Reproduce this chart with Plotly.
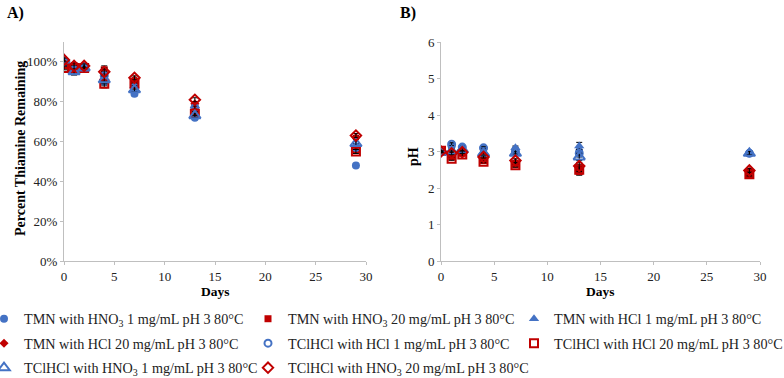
import plotly.graph_objects as go

days = [0, 1, 2, 4, 7, 13, 29]

series_names = [
    "TMN with HNO<sub>3</sub> 1 mg/mL pH 3 80°C",
    "TMN with HNO<sub>3</sub> 20 mg/mL pH 3 80°C",
    "TMN with HCl 1 mg/mL pH 3 80°C",
    "TMN with HCl 20 mg/mL pH 3 80°C",
    "TClHCl with HCl 1 mg/mL pH 3 80°C",
    "TClHCl with HCl 20 mg/mL pH 3 80°C",
    "TClHCl with HNO<sub>3</sub> 1 mg/mL pH 3 80°C",
    "TClHCl with HNO<sub>3</sub> 20 mg/mL pH 3 80°C",
]

# Panel A: fraction of thiamine remaining
pct_tmn_hno3_1 = [0.99, 0.96, 0.97, 0.90, 0.84, 0.72, 0.48]
pct_tmn_hno3_20 = [0.98, 0.98, 0.97, 0.96, 0.90, 0.75, 0.56]
pct_tmn_hcl_1 = [0.99, 0.95, 0.97, 0.92, 0.88, 0.78, 0.58]
pct_tmn_hcl_20 = [1.00, 0.98, 0.98, 0.94, 0.91, 0.79, 0.62]
pct_tcl_hcl_1 = [1.00, 0.96, 0.97, 0.93, 0.87, 0.77, 0.57]
pct_tcl_hcl_20 = [0.97, 0.97, 0.97, 0.89, 0.89, 0.74, 0.55]
pct_tcl_hno3_1 = [1.01, 0.95, 0.97, 0.91, 0.86, 0.73, 0.59]
pct_tcl_hno3_20 = [1.01, 0.98, 0.98, 0.95, 0.92, 0.81, 0.63]
pct_err = [0.01, 0.015, 0.01, 0.02, 0.01, 0.01, 0.01]

# Panel B: pH
ph_tmn_hno3_1 = [3.00, 3.15, 3.10, 3.08, 3.05, 3.00, 2.95]
ph_tmn_hno3_20 = [3.00, 2.85, 2.95, 2.75, 2.65, 2.45, 2.35]
ph_tmn_hcl_1 = [2.98, 3.05, 3.08, 3.00, 3.10, 3.15, 2.97]
ph_tmn_hcl_20 = [3.02, 2.90, 2.95, 2.80, 2.70, 2.55, 2.45]
ph_tcl_hcl_1 = [3.00, 3.20, 3.12, 3.10, 3.00, 2.95, 2.95]
ph_tcl_hcl_20 = [3.02, 2.80, 2.92, 2.72, 2.62, 2.50, 2.38]
ph_tcl_hno3_1 = [2.98, 3.00, 3.05, 2.95, 2.95, 2.85, 2.95]
ph_tcl_hno3_20 = [3.00, 2.95, 2.98, 2.85, 2.75, 2.60, 2.48]
ph_err = [0.02, 0.04, 0.03, 0.03, 0.05, 0.10, 0.05]

pct_data = [pct_tmn_hno3_1, pct_tmn_hno3_20, pct_tmn_hcl_1, pct_tmn_hcl_20,
            pct_tcl_hcl_1, pct_tcl_hcl_20, pct_tcl_hno3_1, pct_tcl_hno3_20]
ph_data = [ph_tmn_hno3_1, ph_tmn_hno3_20, ph_tmn_hcl_1, ph_tmn_hcl_20,
           ph_tcl_hcl_1, ph_tcl_hcl_20, ph_tcl_hno3_1, ph_tcl_hno3_20]

BLUE = "#4472C4"
RED = "#C00000"
styles = [
    dict(symbol="circle", color=BLUE, size=8),
    dict(symbol="square", color=RED, size=7),
    dict(symbol="triangle-up", color=BLUE, size=9),
    dict(symbol="diamond", color=RED, size=7),
    dict(symbol="circle-open", color=BLUE, size=7),
    dict(symbol="square-open", color=RED, size=8),
    dict(symbol="triangle-up-open", color=BLUE, size=10),
    dict(symbol="diamond-open", color=RED, size=8),
]
legend_cols = ["legend", "legend2", "legend3"]

FONT = "Liberation Serif"
W, H = 784, 378

fig = go.Figure()
for i, name in enumerate(series_names):
    st = styles[i]
    mk = dict(symbol=st["symbol"], color=st["color"], size=st["size"],
              line=dict(color=st["color"], width=2 if "open" in st["symbol"] else 0))
    fig.add_trace(go.Scatter(
        x=days, y=pct_data[i], mode="markers", name=name, marker=mk,
        error_y=dict(type="data", array=pct_err, color="black", thickness=1, width=3),
        xaxis="x", yaxis="y", legendgroup=str(i), legend=legend_cols[i % 3]))
    fig.add_trace(go.Scatter(
        x=days, y=ph_data[i], mode="markers", name=name, marker=mk,
        error_y=dict(type="data", array=ph_err, color="black", thickness=1, width=3),
        xaxis="x2", yaxis="y2", legendgroup=str(i), showlegend=False,
        legend=legend_cols[i % 3]))

axis_common = dict(showgrid=False, zeroline=False, showline=True, linecolor="#BFBFBF",
                   linewidth=1, ticks="outside", tickcolor="#BFBFBF", ticklen=3,
                   automargin=False,
                   tickfont=dict(family=FONT, size=13, color="#222"))

legend_common = dict(orientation="v", xanchor="left", y=1 - 303 / H, yanchor="top",
                     itemwidth=30, font=dict(family=FONT, size=14.2, color="#222"),
                     bgcolor="rgba(0,0,0,0)", tracegroupgap=3)

ydom = [1 - 261 / H, 1 - 42 / H]


def label(text, x, y, angle=0, size=14):
    return dict(text=text, x=x / W, y=1 - y / H, xref="paper", yref="paper",
                xanchor="center", yanchor="middle", showarrow=False, textangle=angle,
                font=dict(family=FONT, size=size, color="black"))


fig.update_layout(
    width=W, height=H,
    margin=dict(l=0, r=0, t=0, b=0, autoexpand=False),
    paper_bgcolor="white", plot_bgcolor="white",
    font=dict(family=FONT, color="black"),
    xaxis=dict(domain=[64 / W, 366 / W], range=[0, 30], dtick=5, anchor="y", **axis_common),
    yaxis=dict(domain=ydom, range=[0, 1.1], tickvals=[0, 0.2, 0.4, 0.6, 0.8, 1.0],
               tickformat=".0%", anchor="x", **axis_common),
    xaxis2=dict(domain=[441 / W, 760 / W], range=[0, 30], dtick=5, anchor="y2", **axis_common),
    yaxis2=dict(domain=ydom, range=[0, 6], dtick=1, anchor="x2", **axis_common),
    legend=dict(x=-16 / W, **legend_common),
    legend2=dict(x=248 / W, **legend_common),
    legend3=dict(x=514 / W, **legend_common),
    annotations=[
        dict(label("<b>A)</b>", 16, 13, size=16)),
        dict(label("<b>B)</b>", 408, 13, size=16)),
        dict(label("<b>Days</b>", 215, 291, size=13.5)),
        dict(label("<b>Days</b>", 600, 291, size=13.5)),
        dict(label("<b>Percent Thiamine Remaining</b>", 20, 149, angle=-90)),
        dict(label("<b>pH</b>", 413, 157, angle=-90)),
    ],
)

fig.write_html("out.html", config={"displayModeBar": False},
               post_script="document.body.style.margin='0';")
